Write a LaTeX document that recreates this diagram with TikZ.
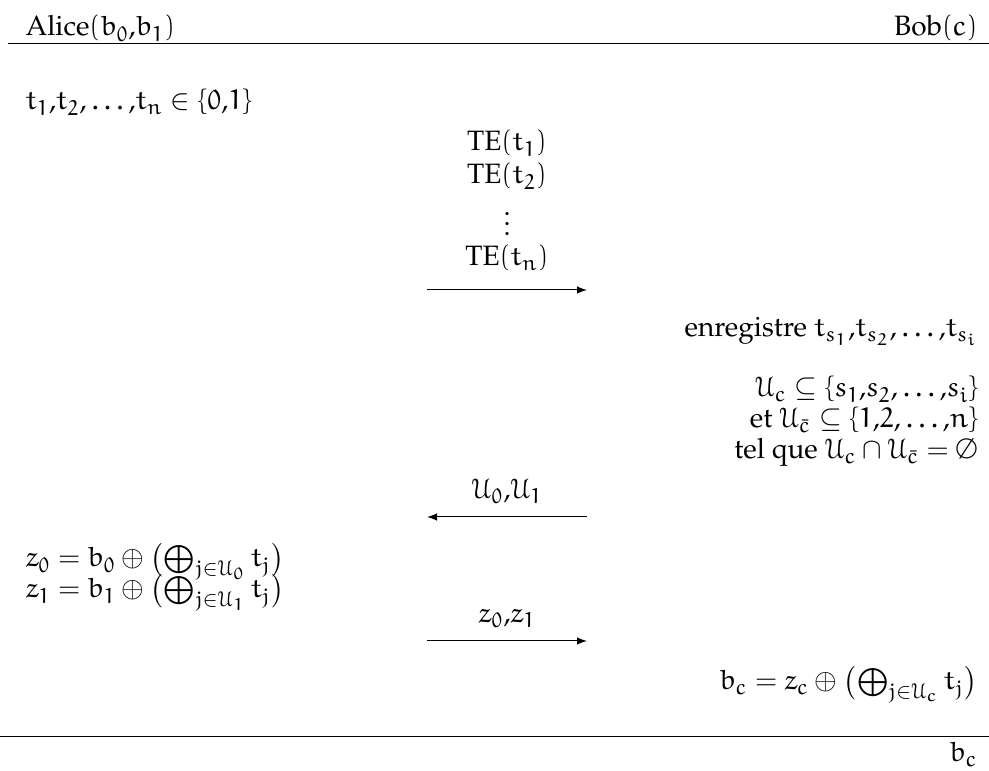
\documentclass[tikz,border=0pt]{standalone}
\usepackage[T1]{fontenc}
\usepackage{mathpazo}
\usepackage{amssymb}
\usepackage{amsmath}
\IfFileExists{euler.sty}{\usepackage{euler}}{}
\IfFileExists{euscript.sty}{\usepackage[mathcal]{euscript}}{}
\usetikzlibrary{arrows.meta}
\newcommand{\Xor}{\mathop{\vcenter{\hbox{\scalebox{1.12}{$\bigoplus$}}}}\nolimits}

\begin{document}
\begin{tikzpicture}[>=latex,x=0.4pt,y=-0.4pt,
  every node/.style={inner sep=0,font=\fontsize{11.2}{13.4}\selectfont}]
  \useasboundingbox (0,0) rectangle (989,771);
  \node[anchor=base west] (A) at (25,36) {Alice$(b_0{,}b_1)$};
  \node[anchor=base east] (B) at (978,36) {Bob$(c)$};
  \draw (8,44) -- (989,44);
  \node[anchor=base west] (T) at (25,110) {$t_1{,}t_2{,}\ldots{,}t_n \in \{0{,}1\}$};
  \node[anchor=base] (E1) at (507,151) {TE$(t_1)$};
  \node[anchor=base] (E2) at (507,184) {TE$(t_2)$};
  \node[anchor=base] (Ed) at (507,236) {$\vdots$};
  \node[anchor=base] (En) at (507,266) {TE$(t_n)$};
  \coordinate (m1a) at (427,290);
  \coordinate (m1b) at (587,290);
  \draw[->] (m1a) -- (m1b);
  \node[anchor=base east] (R) at (978,337) {enregistre $t_{s_1}{,}t_{s_2}{,}\ldots{,}t_{s_i}$};
  \node[anchor=base east] (U1) at (978,397) {$\mathcal{U}_c \subseteq \{s_1{,}s_2{,}\ldots{,}s_i\}$};
  \node[anchor=base east] (U2) at (978,428) {et $\mathcal{U}_{\bar c} \subseteq \{1{,}2{,}\ldots{,}n\}$};
  \node[anchor=base east] (U3) at (978,459) {tel que $\mathcal{U}_c \cap \mathcal{U}_{\bar c} = \emptyset$};
  \coordinate (m2a) at (587,517);
  \coordinate (m2b) at (427,517);
  \draw[->] (m2a) -- (m2b) node[midway,above=5pt] {$\mathcal{U}_0{,}\mathcal{U}_1$};
  \node[anchor=base west] (Z0) at (25,567) {$z_0 = b_0 \oplus \bigl(\Xor_{j\in\mathcal{U}_0} t_j\bigr)$};
  \node[anchor=base west] (Z1) at (25,598) {$z_1 = b_1 \oplus \bigl(\Xor_{j\in\mathcal{U}_1} t_j\bigr)$};
  \coordinate (m3a) at (427,641);
  \coordinate (m3b) at (587,641);
  \draw[->] (m3a) -- (m3b) node[midway,above=5pt] {$z_0{,}z_1$};
  \node[anchor=base east] (BC) at (978,690) {$b_c = z_c \oplus \bigl(\Xor_{j\in\mathcal{U}_c} t_j\bigr)$};
  \draw (0,737) -- (989,737);
  \node[anchor=base east] (Out) at (978,762) {$b_c$};
\end{tikzpicture}
\end{document}
